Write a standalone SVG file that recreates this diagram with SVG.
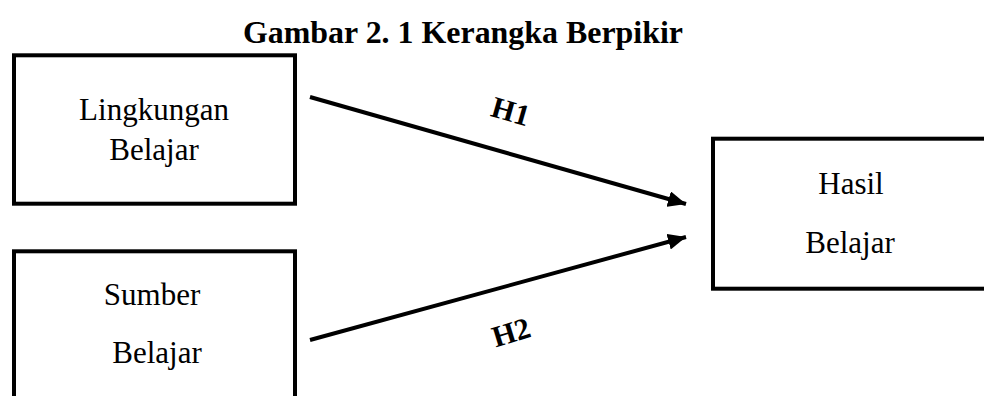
<svg xmlns="http://www.w3.org/2000/svg" width="984" height="396" viewBox="0 0 984 396">
<style>
.box{fill:#fff;stroke:#000;stroke-width:4}
.t{font-family:"Liberation Serif","Times New Roman",serif;font-size:31px;fill:#000;text-anchor:middle}
.h{font-family:"Liberation Serif","Times New Roman",serif;font-size:30px;font-weight:bold;fill:#000;text-anchor:middle}
.c{stroke:#000;stroke-width:4;fill:none}
</style>
<defs>
<marker id="ah" markerUnits="userSpaceOnUse" markerWidth="20" markerHeight="16" refX="18" refY="8" orient="auto">
<path d="M0,0 L18,8 L0,16 Z" fill="#000"/>
</marker>
</defs>
<rect width="984" height="396" fill="#fff"/>
<text x="463" y="43" font-family="Liberation Serif, Times New Roman, serif" font-size="31" font-weight="bold" text-anchor="middle" textLength="440" lengthAdjust="spacingAndGlyphs">Gambar 2. 1 Kerangka Berpikir</text>
<g id="lingkungan">
<rect class="box" x="14" y="55.3" width="281" height="148.4"/>
<text class="t" x="154" y="120">Lingkungan</text>
<text class="t" x="154" y="160">Belajar</text>
</g>
<g id="sumber">
<rect class="box" x="14" y="251.3" width="281" height="160"/>
<text class="t" x="152" y="305">Sumber</text>
<text class="t" x="157" y="363">Belajar</text>
</g>
<g id="hasil">
<rect class="box" x="713" y="138.7" width="290" height="150"/>
<text class="t" x="851" y="194">Hasil</text>
<text class="t" x="850" y="253">Belajar</text>
</g>
<g id="connectors">
<line class="c" x1="310" y1="97" x2="686" y2="204" marker-end="url(#ah)"/>
<line class="c" x1="310" y1="340" x2="686" y2="237" marker-end="url(#ah)"/>
<text class="h" transform="translate(508,121) rotate(16)">H1</text>
<text class="h" transform="translate(514,342) rotate(-17)">H2</text>
</g>
</svg>
